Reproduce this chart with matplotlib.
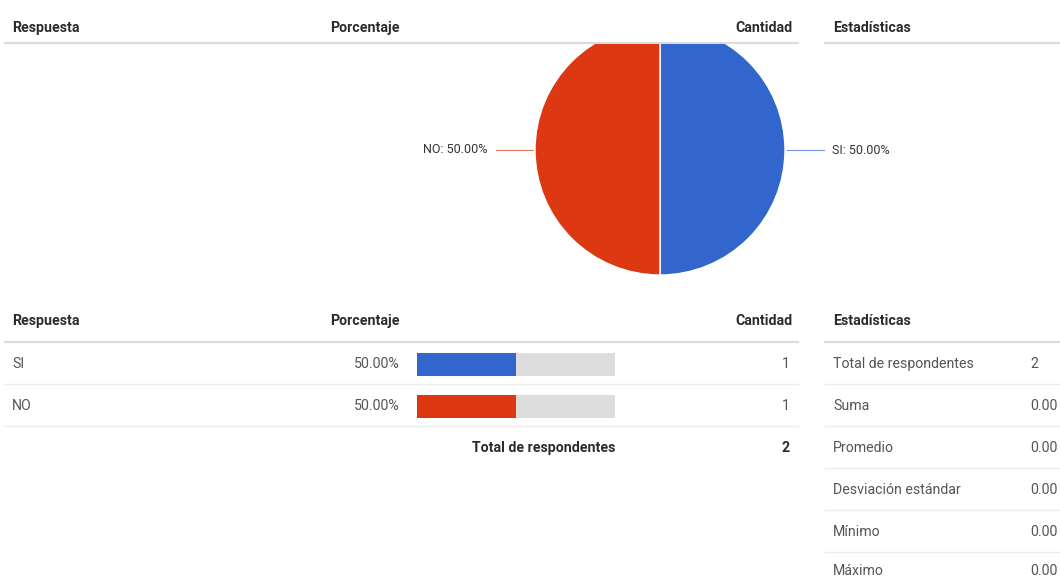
import matplotlib
matplotlib.use("Agg")
import matplotlib.pyplot as plt
import numpy as np

plt.rcParams['font.family'] = ['Roboto', 'DejaVu Sans']

# survey answers
answers = ["SI", "NO"]
counts = [1, 1]
colors = ["#3366cc", "#dc3912"]
total = sum(counts)
percents = [100.0 * c / total for c in counts]

stat_names = ["Total de respondentes", "Suma", "Promedio",
              "Desviación estándar", "Mínimo", "Máximo"]
stat_values = ["2", "0.00", "0.00", "0.00", "0.00", "0.00"]

headers = ["Respuesta", "Porcentaje", "Cantidad", "Estadísticas"]

W, H = 1060, 578
fig = plt.figure(figsize=(W / 100, H / 100), dpi=100)
ax = fig.add_axes([0, 0, 1, 1])
ax.set_xlim(0, W)
ax.set_ylim(H, 0)
ax.axis("off")

head_col = "#2b2b2b"
body_col = "#555555"
line_col = "#dcdcdc"
thin_col = "#ececec"
fs = 10.2


def header_row(y, line_y):
    ax.text(12, y, headers[0], ha="left", va="center", fontsize=fs, weight="bold", color=head_col)
    ax.text(400, y, headers[1], ha="right", va="center", fontsize=fs, weight="bold", color=head_col)
    ax.text(793, y, headers[2], ha="right", va="center", fontsize=fs, weight="bold", color=head_col)
    ax.text(833, y, headers[3], ha="left", va="center", fontsize=fs, weight="bold", color=head_col)
    ax.plot([5, 798], [line_y, line_y], color=line_col, lw=1.6)
    ax.plot([825, 1060], [line_y, line_y], color=line_col, lw=1.6)


header_row(28, 43)
header_row(321, 342)

# answer rows with percentage bars
row_h = 42
bar_left, bar_full, bar_h = 417, 198, 23
for i, (a, c, p, col) in enumerate(zip(answers, counts, percents, colors)):
    y = 364 + i * row_h
    ax.text(12, y, a, ha="left", va="center", fontsize=fs, color=body_col)
    ax.text(400, y, f"{p:.2f}%", ha="right", va="center", fontsize=fs, color=body_col)
    ax.barh(y, bar_full, left=bar_left, height=bar_h, color="#dddddd")
    ax.barh(y, bar_full * p / 100, left=bar_left, height=bar_h, color=col)
    ax.text(790, y, str(c), ha="right", va="center", fontsize=fs, color=body_col)
    ax.plot([5, 798], [y + 20, y + 20], color=thin_col, lw=1)

ty = 364 + len(answers) * row_h
ax.text(544, ty, "Total de respondentes", ha="center", va="center", fontsize=fs,
        weight="bold", color=head_col)
ax.text(790, ty, str(total), ha="right", va="center", fontsize=fs, weight="bold", color=head_col)

# statistics column
for i, (n, v) in enumerate(zip(stat_names, stat_values)):
    y = min(364 + i * row_h, 571)
    ax.text(833, y, n, ha="left", va="center", fontsize=fs, color=body_col)
    ax.text(1030, y, v, ha="left", va="center", fontsize=fs, color=body_col)
    if i < len(stat_names) - 1:
        ax.plot([825, 1060], [364 + i * row_h + 20] * 2, color=thin_col, lw=1)

# pie, clipped at the header line
cx, cy, r = 660, 150, 125
top = 44
pax = fig.add_axes([(cx - r) / W, 1 - (cy + r) / H, 2 * r / W, (cy + r - top) / H])
wedges, _ = pax.pie(counts, colors=colors, startangle=90, counterclock=False,
                    wedgeprops=dict(edgecolor="white", linewidth=1))
pax.set_aspect("auto")
pax.set_xlim(-1, 1)
pax.set_ylim(-1, (cy - top) / r)
pax.axis("off")
for w in wedges:
    w.set_clip_on(True)
    w.set_clip_path(pax.patch)

for w, a, p, col in zip(wedges, answers, percents, colors):
    ang = np.deg2rad((w.theta1 + w.theta2) / 2)
    dx, dy = np.cos(ang), np.sin(ang)
    pax.plot([1.02 * dx, 1.31 * dx], [1.02 * dy, 1.31 * dy], color=col, lw=0.8,
             alpha=0.7, clip_on=False)
    pax.text(1.38 * dx, dy, f"{a}: {p:.2f}%", ha="left" if dx > 0 else "right",
             va="center", fontsize=9, color="#333333", clip_on=False)

fig.savefig("out.png", dpi=100)
